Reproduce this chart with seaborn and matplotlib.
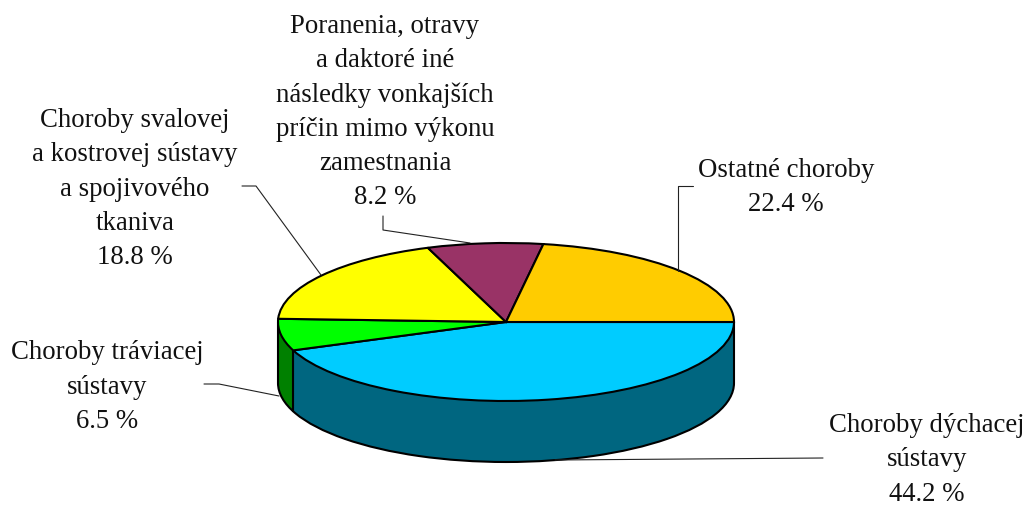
import numpy as np
import matplotlib
matplotlib.use('Agg')
import matplotlib.pyplot as plt
from matplotlib.patches import Rectangle
import seaborn as sns

# hodnoty z grafu (%)
values = [44.2, 6.5, 18.8, 8.2, 22.4]
top_colors = ['#00CCFF', '#00FF00', '#FFFF00', '#993366', '#FFCC00']
# zadne vysece nie je vidno, stena len pre dve predne
side_colors = ['#006680', '#008000', 'none', 'none', 'none']

labels = [
    'Choroby dýchacej\nsústavy\n44.2 %',
    'Choroby tráviacej\nsústavy\n6.5 %',
    'Choroby svalovej\na kostrovej sústavy\na spojivového\ntkaniva\n18.8 %',
    'Poranenia, otravy\na daktoré iné\nnásledky vonkajších\npríčin mimo výkonu\nzamestnania\n8.2 %',
    'Ostatné choroby\n22.4 %',
]
label_pos = [(927, 460), (107, 387), (135, 189), (385, 112), (786, 187.5)]
leaders = [
    [(823, 458), (555, 460)],
    [(204, 384), (219, 384), (279, 396)],
    [(242, 186), (256, 186), (321, 275)],
    [(383, 216), (383, 230), (470, 243)],
    [(693, 186), (678, 186), (678, 271)],
]

sns.set_theme(style='white')
plt.rcParams['font.family'] = ['Liberation Serif', 'DejaVu Serif']

W, H = 1029, 505
cx, cy, rx, ry, depth_px = 506, 322, 228, 79, 61
depth = depth_px / ry

fig = plt.figure(figsize=(W / 100, H / 100), dpi=100)
ax = fig.add_axes([0, 0, 1, 1])

# bocna stena = nahromadene kolace
for d in np.linspace(depth, 0.02, 90):
    ax.pie(values, colors=side_colors, startangle=0, counterclock=False, radius=1,
           center=(0, -d), wedgeprops=dict(linewidth=0))

# spodny okraj, len dolna polovica (pie vypina clip)
rim, _ = ax.pie([sum(values)], colors=['none'], radius=1, center=(0, -depth),
                wedgeprops=dict(edgecolor='black', linewidth=1.5))
rim[0].set_clip_on(True)
rim[0].set_clip_path(Rectangle((-1.1, -depth - 1.1), 2.2, 1.1, transform=ax.transData))
rim[0].set_zorder(3)

# zvisle hrany steny
angles = [0, 180, 360 * values[0] / sum(values)]
for a in angles:
    x = np.cos(np.radians(a))
    y = -np.sin(np.radians(a))
    ax.plot([x, x], [y, y - depth], color='black', lw=1.5, zorder=3)

# vrch
wedges, _ = ax.pie(values, colors=top_colors, startangle=0, counterclock=False, radius=1,
                   center=(0, 0), wedgeprops=dict(edgecolor='black', linewidth=1.5))
for w in wedges:
    w.set_zorder(4)

ax.set_aspect('auto')
ax.set_xlim((0 - cx) / rx, (W - cx) / rx)
ax.set_ylim((cy - H) / ry, cy / ry)
ax.axis('off')

# popisky v pixeloch
ax2 = fig.add_axes([0, 0, 1, 1], facecolor='none')
ax2.set_xlim(0, W)
ax2.set_ylim(H, 0)
ax2.axis('off')
for pts in leaders:
    xs, ys = zip(*pts)
    ax2.plot(xs, ys, color='#222222', lw=0.8)
for txt, (x, y) in zip(labels, label_pos):
    ax2.text(x, y, txt, ha='center', va='center', fontsize=19.3, linespacing=1.48,
             color='#111111')

fig.savefig('out.png', dpi=100)
